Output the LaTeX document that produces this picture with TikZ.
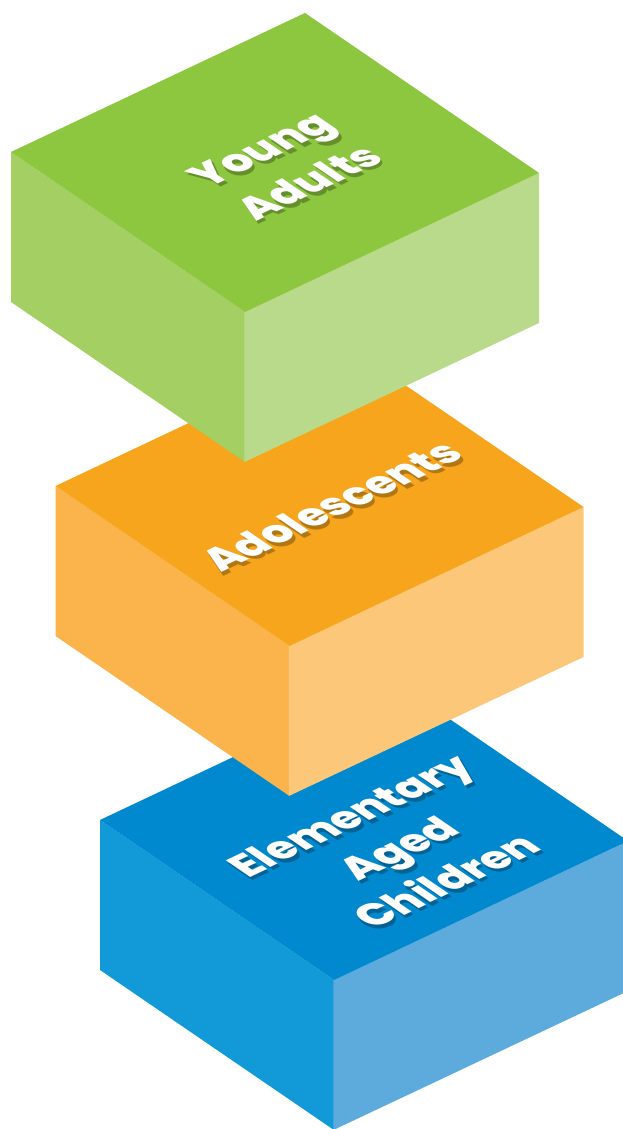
\documentclass[tikz,border=0pt]{standalone}
\usepackage{fontspec}
\newfontfamily\labelfont{Poppins}[BoldFont={* ExtraBold}]
\definecolor{gTop}{HTML}{8DC63F}
\definecolor{gLeft}{HTML}{A4CF63}
\definecolor{gRight}{HTML}{B9DA8A}
\definecolor{oTop}{HTML}{F7A51D}
\definecolor{oLeft}{HTML}{FAB44B}
\definecolor{oRight}{HTML}{FCC778}
\definecolor{bTop}{HTML}{0089CF}
\definecolor{bLeft}{HTML}{1199D8}
\definecolor{bRight}{HTML}{5DABDD}
\newcommand\isobox[4]{%
  \begin{scope}[shift={#1}]
    \fill[#3] (0,0) -- (-234,160) -- (-234,10) -- (0,-150) -- cycle;
    \fill[#4] (-0.6,0) -- (294,139) -- (294,-11) -- (-0.6,-150) -- cycle;
    \fill[#2] (0,0) -- (-234,160) -- (60,299) -- (294,139) -- cycle;
  \end{scope}}
\tikzset{
  lblbase/.style={cm={0.904,0.428,-0.825,0.564,(0,0)}, transform shape,
    font=\labelfont\bfseries\fontsize{42}{58}\selectfont, align=center,
    inner sep=0pt},
  lbl/.style={lblbase, text=white},
  lblshadow/.style={lblbase, text=black, text opacity=0.28}
}
\begin{document}
\begin{tikzpicture}[x=1pt,y=1pt]
\useasboundingbox (0,0) rectangle (623,1129);
\clip (0,0) rectangle (623,1129);
\fill[white] (0,0) rectangle (623,1129);
% boxes, bottom first
\isobox{(334,149)}{bTop}{bLeft}{bRight}
\begin{scope}[shift={(400.5,277.5)}]
  \node[lblshadow] (ecs) {Elementary\\Aged\\Children};
\end{scope}
\begin{scope}[shift={(398,281)}]
  \node[lbl] (ec) {Elementary\\Aged\\Children};
\end{scope}
\isobox{(289.5,483)}{oTop}{oLeft}{oRight}
\begin{scope}[shift={(333.5,619.5)}]
  \node[lblshadow] (ads) {Adolescents};
\end{scope}
\begin{scope}[shift={(331,623)}]
  \node[lbl] (ad) {Adolescents};
\end{scope}
\isobox{(245,817)}{gTop}{gLeft}{gRight}
\begin{scope}[shift={(287.5,959.5)}]
  \node[lblshadow] (yas) {Young\\Adults};
\end{scope}
\begin{scope}[shift={(285,963)}]
  \node[lbl] (ya) {Young\\Adults};
\end{scope}
\end{tikzpicture}
\end{document}
